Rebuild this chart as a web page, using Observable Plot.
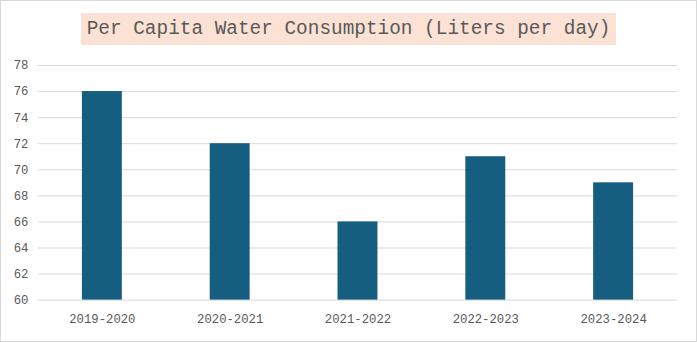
<!DOCTYPE html>
<html>
<head>
<meta charset="utf-8">
<script src="https://cdn.jsdelivr.net/npm/d3@7"></script>
<script src="https://cdn.jsdelivr.net/npm/@observablehq/plot@0.6"></script>
<style>
  html, body { margin: 0; padding: 0; background: #fff; }
  #chart { position: relative; width: 697px; height: 342px; box-sizing: border-box; border: 1px solid #d9d9d9; background: #fff; overflow: hidden; }
  #title { position: absolute; left: 80px; top: 12px; width: 535px; height: 32px; background: #fbe2d5; color: #595959;
    font-family: "Liberation Mono", "DejaVu Sans Mono", monospace; font-size: 19.4px; line-height: 32px; text-align: center; white-space: nowrap; }
  #plot { position: absolute; left: -1px; top: 49px; }
</style>
</head>
<body>
<div id="chart">
  <div id="title">Per Capita Water Consumption (Liters per day)</div>
  <div id="plot"></div>
</div>
<script>
const years = ["2019-2020", "2020-2021", "2021-2022", "2022-2023", "2023-2024"];
const consumption = [76, 72, 66, 71, 69];
const yTicks = [60, 62, 64, 66, 68, 70, 72, 74, 76, 78];

const data = years.map((y, i) => ({year: y, value: consumption[i]}));

const plot = Plot.plot({
  width: 697,
  height: 292,
  marginTop: 15,
  marginBottom: 42,
  marginLeft: 38,
  marginRight: 19,
  style: { fontFamily: "'Liberation Mono', 'DejaVu Sans Mono', monospace", fontSize: "12.3px", color: "#595959", background: "transparent" },
  x: { domain: years, paddingInner: 0.6875, paddingOuter: 0.34375, label: null },
  y: { domain: [60, 78], ticks: yTicks, label: null },
  marks: [
    Plot.ruleY(yTicks, { stroke: "#d9d9d9", strokeWidth: 1 }),
    Plot.barY(data, { x: "year", y1: 60, y2: "value", fill: "#165E80" }),
    Plot.axisY({ ticks: yTicks, tickSize: 0, tickPadding: 10, label: null, fill: "#595959" }),
    Plot.axisX({ tickSize: 0, tickPadding: 14, label: null, fill: "#595959" })
  ]
});
document.getElementById("plot").appendChild(plot);
</script>
</body>
</html>
